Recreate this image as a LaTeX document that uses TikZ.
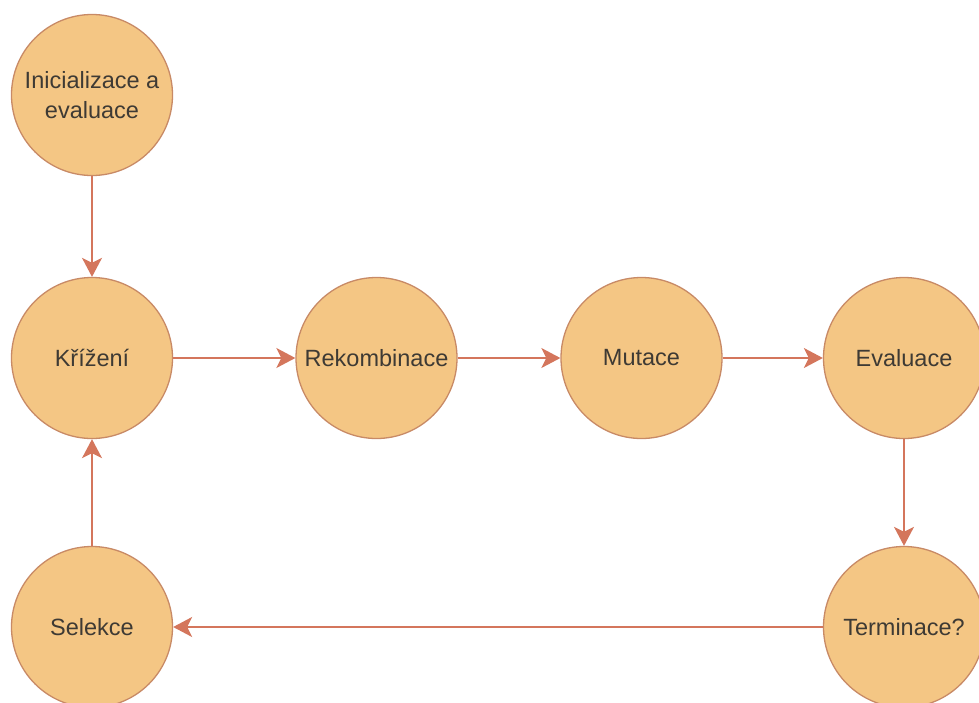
\documentclass[tikz,border=0pt]{standalone}
\usepackage{fontspec}
\setmainfont{Liberation Sans}
\usetikzlibrary{arrows.meta}
\definecolor{cfill}{HTML}{F4C684}
\definecolor{cline}{HTML}{C88A66}
\definecolor{carrow}{HTML}{D4765C}
\definecolor{ctext}{HTML}{3E3A34}
\tikzset{
  stagenode/.style={circle, draw=cline, line width=1.3pt, fill=cfill, minimum size=161pt, inner sep=0pt,
    text=ctext, font=\fontsize{23.5}{30}\selectfont, align=center},
  arr/.style={draw=carrow, line width=1.6pt, -{Stealth[length=19pt, width=20pt, inset=5pt, fill=carrow]}}
}
\begin{document}
\begin{tikzpicture}[x=1pt, y=-1pt]
\path[use as bounding box] (0,0) rectangle (979,702);
\clip (0,0) rectangle (979,702);
\fill[white] (0,0) rectangle (979,702);
\node[stagenode] (init) at (92,95) {Inicializace a\\evaluace};
\node[stagenode] (kr) at (92,358) {Křížení};
\node[stagenode] (rek) at (376.5,358) {Rekombinace};
\node[stagenode] (mut) at (641.5,358) {Mutace};
\node[stagenode] (eva) at (904,358) {Evaluace};
\node[stagenode] (ter) at (904,627) {Terminace?};
\node[stagenode] (sel) at (92,627) {Selekce};
\draw[arr] (init) -- (kr);
\draw[arr] (kr) -- (rek);
\draw[arr] (rek) -- (mut);
\draw[arr] (mut) -- (eva);
\draw[arr] (eva) -- (ter);
\draw[arr] (ter) -- (sel);
\draw[arr] (sel) -- (kr);
\end{tikzpicture}
\end{document}
